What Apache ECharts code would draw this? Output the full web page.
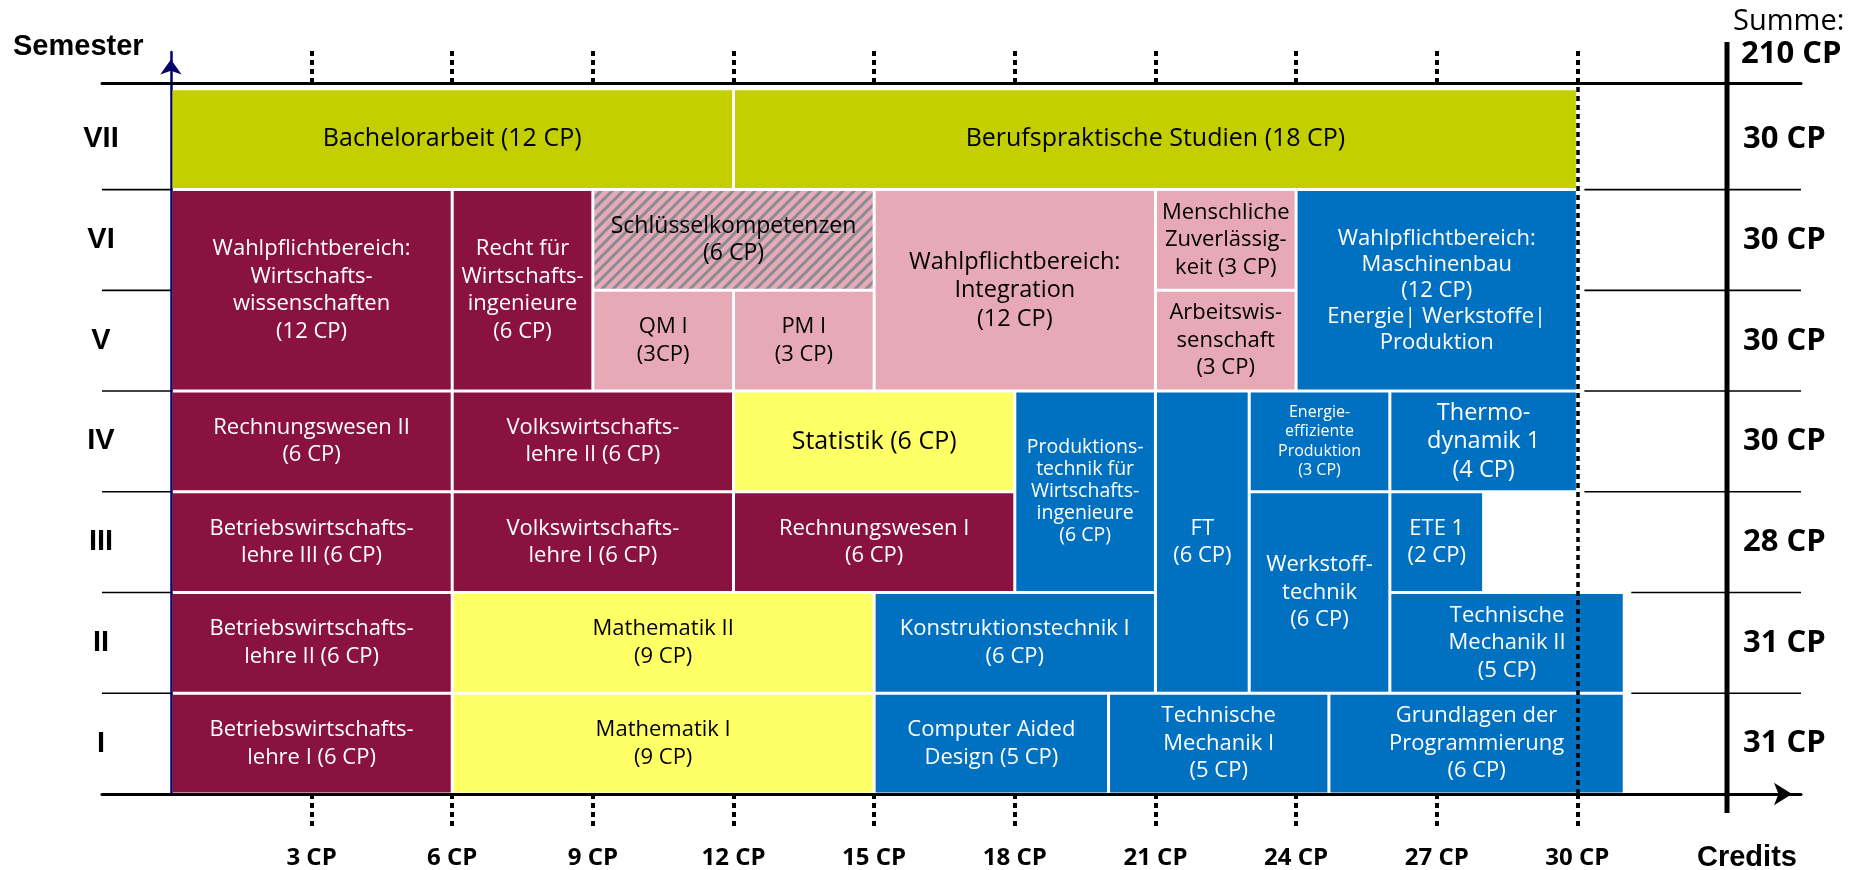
<!DOCTYPE html>
<html>
<head>
<meta charset="utf-8">
<script src="https://cdn.jsdelivr.net/npm/echarts@6/dist/echarts.min.js"></script>
<style>
html,body{margin:0;padding:0;background:#ffffff;}
#chart{width:1863px;height:870px;}
</style>
</head>
<body>
<div id="chart"></div>
<script>
// ---------------- data ----------------
const semesterLabels = ['I', 'II', 'III', 'IV', 'V', 'VI', 'VII'];
const semesterSums = ['31 CP', '31 CP', '28 CP', '30 CP', '30 CP', '30 CP', '30 CP'];
const totalLabel = 'Summe:';
const totalSum = '210 CP';
const creditTicks = [3, 6, 9, 12, 15, 18, 21, 24, 27, 30];
const creditTickLabels = ['3 CP', '6 CP', '9 CP', '12 CP', '15 CP', '18 CP', '21 CP', '24 CP', '27 CP', '30 CP'];
const fullLoadCredits = 30;

const moduleLabels = [
  'Betriebswirtschafts-\nlehre I (6 CP)',
  'Mathematik I\n(9 CP)',
  'Computer Aided\nDesign (5 CP)',
  'Technische\nMechanik I\n(5 CP)',
  'Grundlagen der\nProgrammierung\n(6 CP)',
  'Betriebswirtschafts-\nlehre II (6 CP)',
  'Mathematik II\n(9 CP)',
  'Konstruktionstechnik I\n(6 CP)',
  'FT\n(6 CP)',
  'Werkstoff-\ntechnik\n(6 CP)',
  'Technische\nMechanik II\n(5 CP)',
  'Betriebswirtschafts-\nlehre III (6 CP)',
  'Volkswirtschafts-\nlehre I (6 CP)',
  'Rechnungswesen I\n(6 CP)',
  'Produktions-\ntechnik für\nWirtschafts-\ningenieure\n(6 CP)',
  'ETE 1\n(2 CP)',
  'Rechnungswesen II\n(6 CP)',
  'Volkswirtschafts-\nlehre II (6 CP)',
  'Statistik (6 CP)',
  'Energie-\neffiziente\nProduktion\n(3 CP)',
  'Thermo-\ndynamik 1\n(4 CP)',
  'Wahlpflichtbereich:\nWirtschafts-\nwissenschaften\n(12 CP)',
  'Recht für\nWirtschafts-\ningenieure\n(6 CP)',
  'QM I\n(3CP)',
  'PM I\n(3 CP)',
  'Schlüsselkompetenzen\n(6 CP)',
  'Wahlpflichtbereich:\nIntegration\n(12 CP)',
  'Arbeitswis-\nsenschaft\n(3 CP)',
  'Menschliche\nZuverlässig-\nkeit (3 CP)',
  'Wahlpflichtbereich:\nMaschinenbau\n(12 CP)\nEnergie| Werkstoffe|\nProduktion',
  'Bachelorarbeit (12 CP)',
  'Berufspraktische Studien (18 CP)'
];
const moduleStart = [0, 6, 15, 20, 24.7, 0, 6, 15, 21, 23, 26, 0, 6, 12, 18, 26, 0, 6, 12, 23, 26, 0, 6, 9, 12, 9, 15, 21, 21, 24, 0, 12];
const moduleEnd   = [6, 15, 20, 24.7, 31, 6, 15, 21, 23, 26, 31, 6, 12, 18, 21, 28, 6, 12, 18, 26, 30, 6, 9, 12, 15, 15, 21, 24, 24, 30, 12, 30];
const moduleSemFrom = [1, 1, 1, 1, 1, 2, 2, 2, 2, 2, 2, 3, 3, 3, 3, 3, 4, 4, 4, 4, 4, 5, 5, 5, 5, 6, 5, 5, 6, 5, 7, 7];
const moduleSemTo   = [1, 1, 1, 1, 1, 2, 2, 2, 4, 3, 2, 3, 3, 3, 4, 3, 4, 4, 4, 4, 4, 6, 6, 5, 5, 6, 6, 5, 6, 6, 7, 7];
const moduleArea = ['wiwi', 'math', 'ing', 'ing', 'ing',
                    'wiwi', 'math', 'ing', 'ing', 'ing', 'ing',
                    'wiwi', 'wiwi', 'wiwi', 'ing', 'ing',
                    'wiwi', 'wiwi', 'math', 'ing', 'ing',
                    'wiwi', 'wiwi', 'integ', 'integ', 'key', 'integ', 'integ', 'integ', 'ing',
                    'final', 'final'];

// ---------------- styles ----------------
function hatchPattern() {
  const s = 11;
  const c = document.createElement('canvas');
  c.width = s; c.height = s;
  const g = c.getContext('2d');
  g.fillStyle = '#E6A9B5';
  g.fillRect(0, 0, s, s);
  g.strokeStyle = '#858C94';
  g.lineWidth = 3;
  g.beginPath();
  g.moveTo(-2, s + 2); g.lineTo(s + 2, -2);
  g.moveTo(-2, 2); g.lineTo(2, -2);
  g.moveTo(s - 2, s + 2); g.lineTo(s + 2, s - 2);
  g.stroke();
  return c;
}
const areaFill = {
  wiwi: '#8A1240',
  math: '#FFFF66',
  ing: '#0070C0',
  integ: '#E6A9B5',
  key: { image: hatchPattern(), repeat: 'repeat' },
  final: '#C4CF00'
};
const areaText = { wiwi: '#ffffff', ing: '#ffffff', math: '#000000', integ: '#000000', key: '#000000', final: '#000000' };
// label font size / line height overrides, keyed by label text
const labelSizes = {
  'Energie-\neffiziente\nProduktion\n(3 CP)': [16, 19.5],
  'Produktions-\ntechnik für\nWirtschafts-\ningenieure\n(6 CP)': [19.5, 22],
  'Bachelorarbeit (12 CP)': [25, 30],
  'Berufspraktische Studien (18 CP)': [25, 30],
  'Statistik (6 CP)': [25, 30],
  'Schlüsselkompetenzen\n(6 CP)': [23, 27],
  'Thermo-\ndynamik 1\n(4 CP)': [23.5, 28.5],
  'Wahlpflichtbereich:\nIntegration\n(12 CP)': [23.5, 28.5],
  'Wahlpflichtbereich:\nMaschinenbau\n(12 CP)\nEnergie| Werkstoffe|\nProduktion': [22, 26]
};
const defaultLabelSize = [22, 27.5];
const BLOCK_FONT = '"Open Sans", "Noto Sans", sans-serif';
const BOLD_FONT = '"Open Sans", sans-serif';
const AXIS_FONT = '"Liberation Sans", Arial, sans-serif';

const blockData = moduleLabels.map((l, i) => [moduleStart[i], moduleEnd[i], moduleSemFrom[i] - 1, moduleSemTo[i], i]);
const rowCenters = semesterLabels.map((s, i) => i + 0.5);
const boundaries = semesterLabels.slice(1).map((s, i) => i + 1);

function rightStartFor(b) {
  let m = fullLoadCredits;
  moduleLabels.forEach((l, i) => {
    const r0 = moduleSemFrom[i] - 1, r1 = moduleSemTo[i] - 1;
    if ((b - 1 >= r0 && b - 1 <= r1) || (b >= r0 && b <= r1)) m = Math.max(m, moduleEnd[i]);
  });
  return m + 0.15;
}

const X_MIN = -1.47, X_MAX = 34.77, Y_MAX = 7.366;

const chart = echarts.init(document.getElementById('chart'), null, { renderer: 'canvas' });

const option = {
  animation: false,
  backgroundColor: '#ffffff',
  grid: { left: 102, right: 62, top: 52, bottom: 73 },
  xAxis: [
    {
      type: 'value', min: X_MIN, max: X_MAX, position: 'bottom',
      axisLine: { show: true, onZero: false, lineStyle: { color: '#000', width: 3 },
                  symbol: ['none', 'arrow'], symbolSize: [17, 18], symbolOffset: [0, -9] },
      axisTick: { show: true, customValues: creditTicks, length: 33, inside: false,
                  lineStyle: { color: '#000', width: 4, type: [5, 4] } },
      axisLabel: { show: true, customValues: creditTicks, margin: 52,
                   formatter: v => creditTickLabels[creditTicks.indexOf(v)],
                   fontFamily: BOLD_FONT, fontWeight: 'bold', fontSize: 24, color: '#000' },
      splitLine: { show: false }
    },
    {
      type: 'value', min: X_MIN, max: X_MAX, position: 'top', offset: -31,
      axisLine: { show: true, onZero: false, lineStyle: { color: '#000', width: 3 } },
      axisTick: { show: true, customValues: creditTicks, length: 33,
                  lineStyle: { color: '#000', width: 4, type: [5, 4] } },
      axisLabel: { show: false },
      splitLine: { show: false }
    }
  ],
  yAxis: [
    {
      type: 'value', min: 0, max: Y_MAX,
      axisLine: { show: true, onZero: true, onZeroAxisIndex: 0, lineStyle: { color: '#00006E', width: 2.5 },
                  symbol: ['none', 'arrow'], symbolSize: [16, 15], symbolOffset: [0, -7.5] },
      axisTick: { show: false },
      axisLabel: { show: true, customValues: rowCenters, margin: 1, align: 'center',
                   formatter: v => semesterLabels[Math.floor(v)],
                   fontFamily: AXIS_FONT, fontWeight: 'bold', fontSize: 29, color: '#000' },
      splitLine: { show: false }
    },
    {
      type: 'value', min: 0, max: Y_MAX, position: 'right', offset: -58,
      axisLine: { show: false },
      axisTick: { show: false },
      axisLabel: { show: true, customValues: rowCenters, margin: 0, align: 'left',
                   formatter: v => semesterSums[Math.floor(v)],
                   fontFamily: BOLD_FONT, fontWeight: 'bold', fontSize: 31, color: '#000' },
      splitLine: { show: false }
    }
  ],
  graphic: [
    { type: 'text', left: 13, top: 32, style: { text: 'Semester', fontFamily: AXIS_FONT, fontWeight: 'bold', fontSize: 29, fill: '#000' } },
    { type: 'text', left: 1697, top: 843, style: { text: 'Credits', fontFamily: AXIS_FONT, fontWeight: 'bold', fontSize: 29, fill: '#000' } },
    { type: 'text', left: 1733, top: 7, style: { text: totalLabel, fontFamily: BLOCK_FONT, fontSize: 29, fill: '#000' } },
    { type: 'text', left: 1741, top: 39, style: { text: totalSum, fontFamily: BOLD_FONT, fontWeight: 'bold', fontSize: 31, fill: '#000' } },
    { type: 'line', shape: { x1: 1727, y1: 42, x2: 1727, y2: 813 }, style: { stroke: '#000', lineWidth: 5 }, z: 10 }
  ],
  series: [
    {
      type: 'custom',
      name: 'Module',
      xAxisIndex: 0, yAxisIndex: 0,
      data: blockData,
      encode: { x: [0, 1], y: [2, 3] },
      renderItem: function (params, api) {
        const i = api.value(4);
        const p0 = api.coord([api.value(0), api.value(2)]);
        const p1 = api.coord([api.value(1), api.value(3)]);
        const gap = 1.5;
        const x = p0[0] + gap, y = p1[1] + gap;
        const w = p1[0] - p0[0] - 2 * gap, h = p0[1] - p1[1] - 2 * gap;
        const area = moduleArea[i];
        const label = moduleLabels[i];
        const cs = labelSizes[label] || defaultLabelSize;
        return {
          type: 'group',
          children: [
            { type: 'rect', shape: { x: x, y: y, width: w, height: h }, style: { fill: areaFill[area] } },
            { type: 'text', x: x + w / 2, y: y + h / 2,
              style: { text: label, fill: areaText[area], fontFamily: BLOCK_FONT, fontSize: cs[0],
                       lineHeight: cs[1], align: 'center', verticalAlign: 'middle' } }
          ]
        };
      }
    },
    {
      type: 'custom',
      name: 'Semestergrenzen',
      xAxisIndex: 0, yAxisIndex: 0,
      data: boundaries,
      encode: { y: 0 },
      renderItem: function (params, api) {
        const b = api.value(0);
        const cs = params.coordSys;
        const l0 = api.coord([0, b]);
        const r0 = api.coord([rightStartFor(b), b]);
        return {
          type: 'group',
          children: [
            { type: 'line', shape: { x1: cs.x, y1: l0[1], x2: l0[0], y2: l0[1] }, style: { stroke: '#000', lineWidth: 1.6 } },
            { type: 'line', shape: { x1: r0[0], y1: r0[1], x2: cs.x + cs.width, y2: r0[1] }, style: { stroke: '#000', lineWidth: 1.6 } }
          ]
        };
      },
      markLine: {
        silent: true, symbol: 'none', animation: false,
        label: { show: false },
        lineStyle: { color: '#000', width: 3.5, type: [5, 4] },
        data: [{ xAxis: fullLoadCredits }]
      },
      z: 5
    }
  ]
};
chart.setOption(option);
</script>
</body>
</html>
